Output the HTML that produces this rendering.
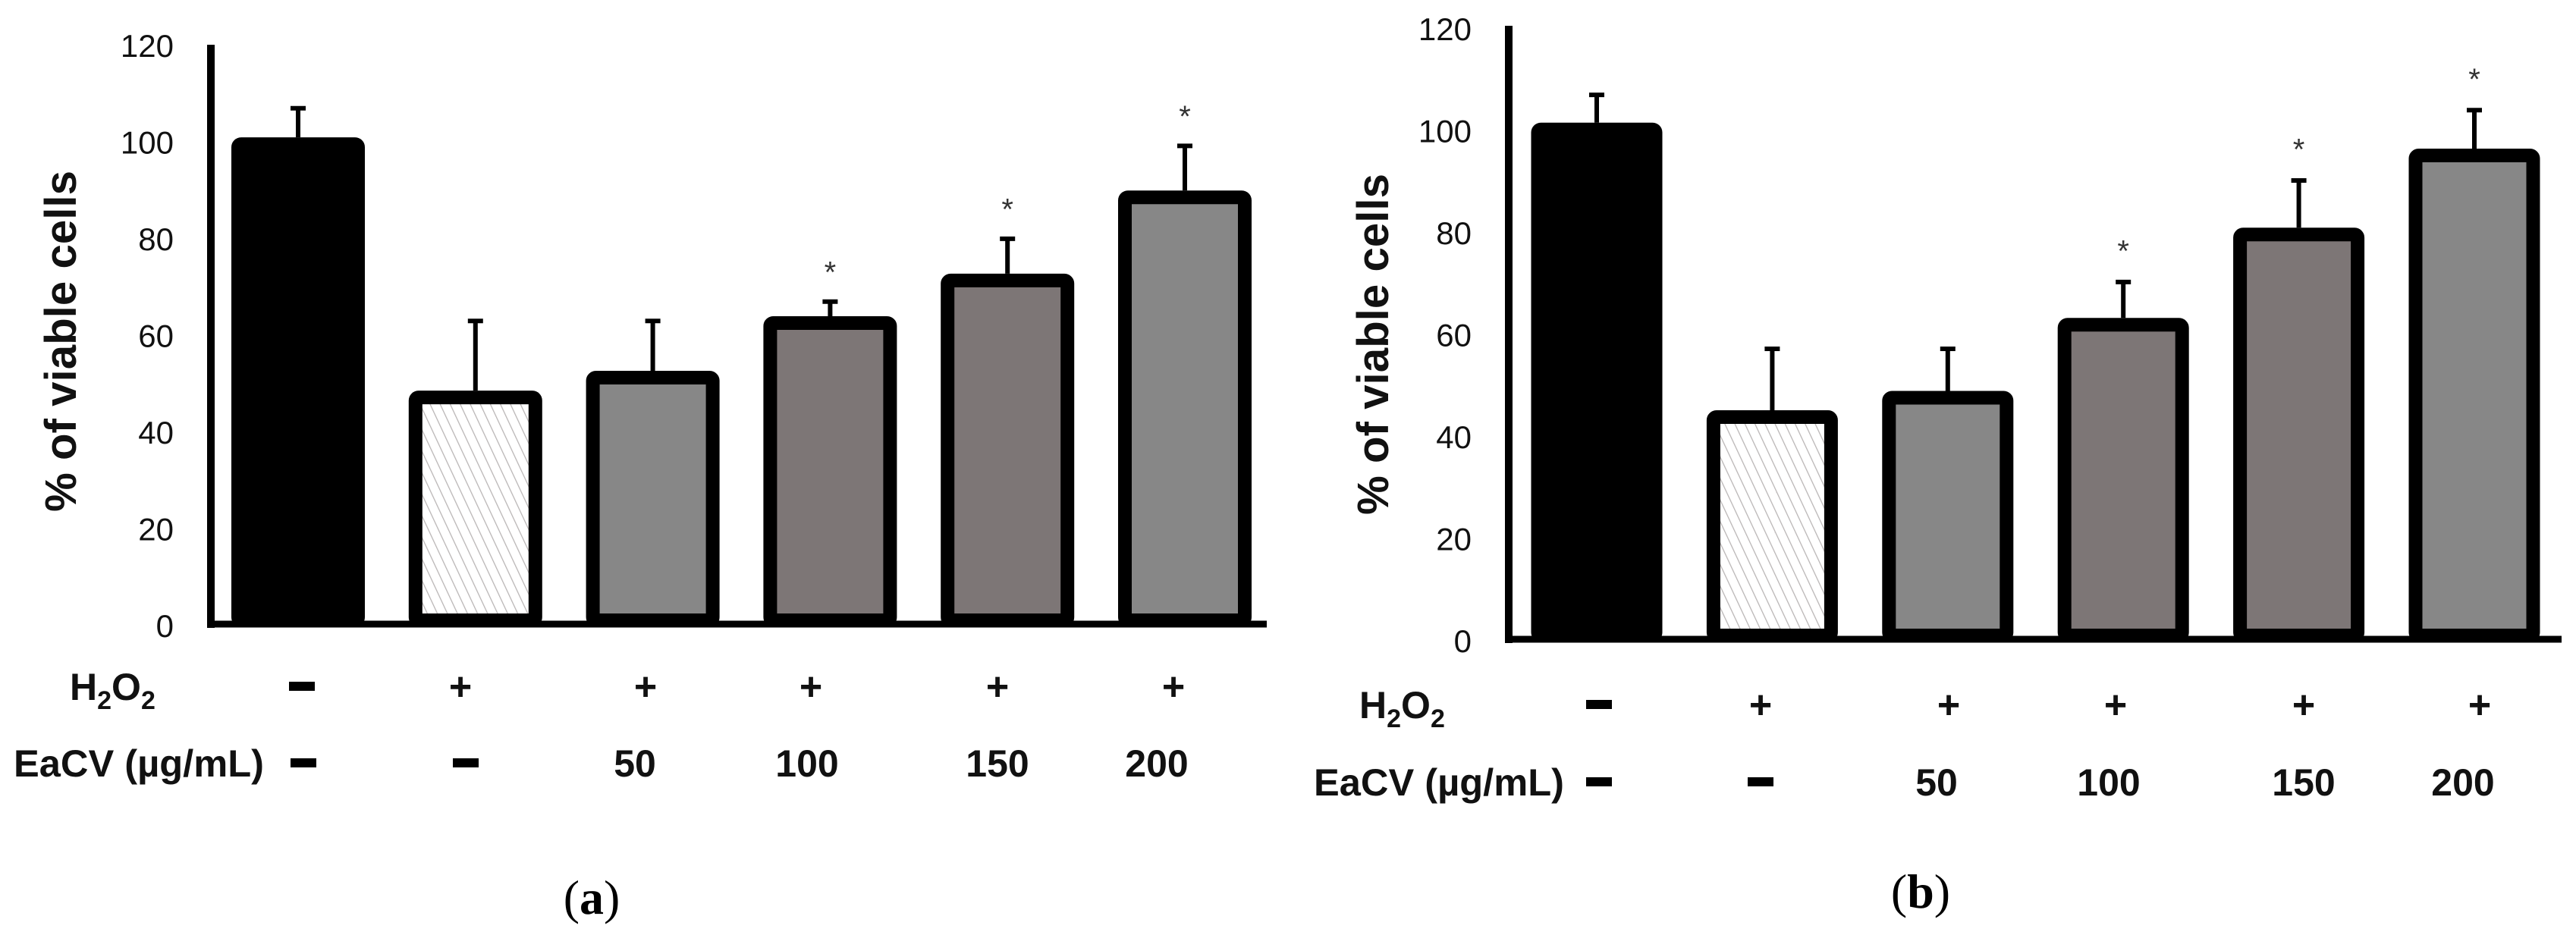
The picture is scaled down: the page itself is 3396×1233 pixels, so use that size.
<!DOCTYPE html>
<html><head><meta charset="utf-8"><style>
html,body{margin:0;padding:0;background:#fff;}
svg{display:block;}
</style></head><body>
<svg id="fig" width="3396" height="1233" viewBox="0 0 3396 1233" xmlns="http://www.w3.org/2000/svg">
<defs>
<pattern id="hatch" patternUnits="userSpaceOnUse" width="12" height="12" patternTransform="rotate(-25)">
<rect width="12" height="12" fill="#fff"/>
<line x1="0" y1="0" x2="0" y2="12" stroke="#b8b4b4" stroke-width="2.5"/>
</pattern>
</defs>
<g id="panelA"></g>
<g id="panelB"></g>
</svg>
<script>
const groups = ["control", "h2o2", "eacv-50", "eacv-100", "eacv-150", "eacv-200"];
const valuesA = [101, 48.6, 52.7, 64, 72.8, 90];
const errorsA = [107.5, 63.5, 63.5, 67.5, 80.5, 99.7];
const starsA = [false, false, false, true, true, true];
const valuesB = [101.6, 45.2, 49, 63.3, 81, 96.5];
const errorsB = [107.5, 57.7, 57.7, 70.8, 90.7, 104.5];
const starsB = [false, false, false, true, true, true];
const yTicks = [0, 20, 40, 60, 80, 100, 120];
const h2o2Row = ["–", "+", "+", "+", "+", "+"];
const eacvRow = ["–", "–", "50", "100", "150", "200"];
const fills = ["#000000", "url(#hatch)", "#878787", "#7d7676", "#7d7676", "#878787"];

const NS = "http://www.w3.org/2000/svg";
function mk(parent, tag, attrs) {
  const e = document.createElementNS(NS, tag);
  for (const k in attrs) e.setAttribute(k, attrs[k]);
  parent.appendChild(e);
  return e;
}

function drawPanel(g, cfg, values, errors, stars, label) {
  const y = v => cfg.y0 - v * cfg.k;
  const x = i => cfg.c0 + i * cfg.step;
  const base = cfg.y0 + 2;
  const ya = mk(g, "line", {x1: cfg.ax, y1: cfg.top, x2: cfg.ax, y2: base + 1, stroke: "#000", "stroke-width": 10});
  
  
  const xa = mk(g, "line", {x1: cfg.ax - 5, y1: base - 4, x2: cfg.axEnd, y2: base - 4, stroke: "#000", "stroke-width": 9});
  
  
  yTicks.forEach(t => {
    const tx = mk(g, "text", {x: cfg.lblRight, y: y(t) + 15, "text-anchor": "end", "font-family": "Liberation Sans, sans-serif", "font-size": 42, fill: "#111"});
    tx.textContent = t;
    
    
  });
  const tt = mk(g, "text", {x: 0, y: 0, transform: `translate(${cfg.titleX},${cfg.titleY}) rotate(-90)`, "text-anchor": "middle", "font-family": "Liberation Sans, sans-serif", "font-weight": "bold", "font-size": 58, fill: "#111", textLength: 450, lengthAdjust: "spacingAndGlyphs"});
  tt.textContent = "% of viable cells";
  
  
  values.forEach((v, i) => {
    const w = cfg.bw, sw = 18;
    const top = y(v);
    const r = mk(g, "rect", {x: x(i) - w / 2 + sw / 2, y: top + sw / 2, width: w - sw, height: base - top - sw, fill: fills[i], stroke: "#000", "stroke-width": sw, rx: 4});
    
    
    const ey = y(errors[i]);
    const eb = mk(g, "path", {d: `M${x(i)},${top} V${ey} M${x(i) - 10},${ey + 3} H${x(i) + 10}`, stroke: "#000", "stroke-width": 6, fill: "none"});
    
    
    if (stars[i]) {
      const st = mk(g, "text", {x: x(i), y: y(errors[i] + 6) + 16, "text-anchor": "middle", "font-family": "Liberation Sans, sans-serif", "font-size": 40, fill: "#333"});
      st.textContent = "*";
      
      
    }
  });
  const h = mk(g, "text", {x: cfg.hX, y: cfg.r1 + 18, "font-family": "Liberation Sans, sans-serif", "font-weight": "bold", "font-size": 50, fill: "#111"});
  h.innerHTML = 'H<tspan font-size="34" dy="12">2</tspan><tspan dy="-12">O</tspan><tspan font-size="34" dy="12">2</tspan>';
  
  
  const e = mk(g, "text", {x: cfg.eX, y: cfg.r2 + 18, "font-family": "Liberation Sans, sans-serif", "font-weight": "bold", "font-size": 50, fill: "#111", textLength: cfg.eLen, lengthAdjust: "spacingAndGlyphs"});
  e.textContent = "EaCV (µg/mL)";
  
  
  const rows = [[h2o2Row, cfg.r1, cfg.h2], [eacvRow, cfg.r2, cfg.e2]];
  rows.forEach(([row, ry, xs]) => {
    row.forEach((s, i) => {
      const cx = xs[i];
      if (s === "–") {
        const d = mk(g, "rect", {x: cx - 17, y: ry - 6, width: 34, height: 12, fill: "#000"});
        
        
      } else {
        const t = mk(g, "text", {x: cx, y: ry + 18, "text-anchor": "middle", "font-family": "Liberation Sans, sans-serif", "font-weight": "bold", "font-size": s === "+" ? 52 : 50, fill: "#111"});
        t.textContent = s;
        
        
      }
    });
  });
  const p = mk(g, "text", {x: cfg.pX, y: cfg.pY, "text-anchor": "middle", "font-family": "Liberation Serif, serif", "font-size": 64, fill: "#000"});
  p.innerHTML = '(<tspan font-weight="bold">' + label + '</tspan>)';
  
  
}

drawPanel(document.getElementById("panelA"), {
  y0: 825, k: 6.375, c0: 393, step: 233.8, bw: 176, ax: 278, top: 59, axEnd: 1670,
  lblRight: 229, titleX: 100, titleY: 450,
  hX: 92, eX: 18, eLen: 330, r1: 905, r2: 1006,
  h2: [398, 607, 851, 1069, 1315, 1547], e2: [400, 614, 837, 1064, 1315, 1525],
  pX: 780, pY: 1205
}, valuesA, errorsA, starsA, "a");

drawPanel(document.getElementById("panelB"), {
  y0: 845, k: 6.725, c0: 2105, step: 231.4, bw: 173, ax: 1989, top: 34, axEnd: 3377,
  lblRight: 1940, titleX: 1830, titleY: 454,
  hX: 1792, eX: 1732, eLen: 330, r1: 929, r2: 1031,
  h2: [2108, 2321, 2569, 2789, 3037, 3269], e2: [2108, 2321, 2553, 2780, 3037, 3247],
  pX: 2532, pY: 1197
}, valuesB, errorsB, starsB, "b");
</script>
</body></html>
